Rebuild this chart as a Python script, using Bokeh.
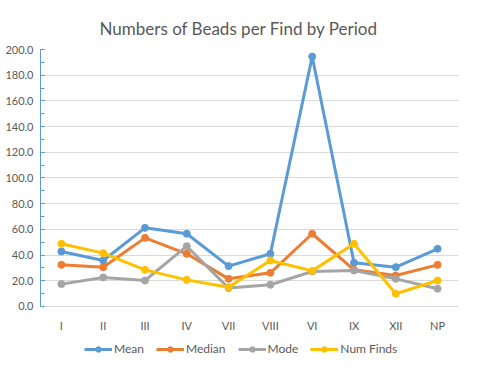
from bokeh.plotting import figure
from bokeh.models import Legend, LegendItem, NumeralTickFormatter, FixedTicker, Range1d
from bokeh.embed import file_html
from bokeh.resources import INLINE

periods = ["I", "II", "III", "IV", "VII", "VIII", "VI", "IX", "XII", "NP"]
mean = [42.8, 35.8, 61.2, 56.6, 31.4, 41.0, 194.5, 34.0, 30.6, 44.9]
median = [32.4, 30.6, 53.4, 41.0, 21.5, 26.2, 56.6, 28.5, 24.1, 32.4]
mode = [17.4, 22.6, 20.2, 46.9, 14.3, 16.9, 27.2, 28.0, 21.5, 13.8]
num_finds = [48.8, 41.5, 28.5, 20.7, 15.0, 35.8, 27.7, 48.8, 9.9, 20.2]
y_ticks = list(range(0, 201, 20))

series = [("Mean", mean, "#5B9BD5"), ("Median", median, "#ED7D31"),
          ("Mode", mode, "#A5A5A5"), ("Num Finds", num_finds, "#FFC000")]

FONT = "Lato"
GREY = "#595959"

p = figure(x_range=periods, y_range=Range1d(-40.5, 200),
           frame_width=418, frame_height=309, output_backend="svg",
           toolbar_location=None, min_border_left=40, min_border_right=6,
           min_border_top=49, min_border_bottom=0)

p.title.text = "Numbers of Beads per Find by Period"
p.title.align = "left"
p.title.offset = 59
p.title.standoff = 21
p.title.text_font = FONT
p.title.text_font_size = "17px"
p.title.text_font_style = "normal"
p.title.text_color = GREY

items = []
for name, vals, col in series:
    r1 = p.line(periods, vals, line_width=3, color=col)
    r2 = p.scatter(periods, vals, size=7, color=col)
    items.append(LegendItem(label=name, renderers=[r1, r2]))

legend = Legend(items=items, orientation="horizontal", location=(44, 2),
                label_text_font=FONT, label_text_font_size="12px",
                label_text_color=GREY, glyph_width=28, glyph_height=14,
                spacing=12, label_height=14,
                border_line_color=None, background_fill_alpha=0,
                padding=0, margin=0, label_standoff=2)
p.add_layout(legend, "center")

p.yaxis.ticker = FixedTicker(ticks=y_ticks,
                             minor_ticks=list(range(0, 201, 10)))
p.yaxis.bounds = (0, 200)
p.yaxis.formatter = NumeralTickFormatter(format="0.0")
p.yaxis.axis_line_color = "#5B9BD5"
p.yaxis.major_tick_in = 4
p.yaxis.major_tick_out = 0
p.yaxis.minor_tick_in = 4
p.yaxis.minor_tick_out = 0
p.yaxis.major_tick_line_color = "#5B9BD5"
p.yaxis.minor_tick_line_color = "#5B9BD5"
p.yaxis.major_label_text_font = FONT
p.yaxis.major_label_text_font_size = "11px"
p.yaxis.major_label_text_color = GREY
p.yaxis.major_label_standoff = 7

p.xaxis.fixed_location = 0
p.xaxis.axis_line_color = "#D9D9D9"
p.xaxis.major_tick_line_color = None
p.xaxis.minor_tick_line_color = None
p.xaxis.major_tick_out = 0
p.xaxis.major_label_text_font = FONT
p.xaxis.major_label_text_font_size = "11px"
p.xaxis.major_label_text_color = GREY
p.xaxis.major_label_standoff = 13

p.xgrid.grid_line_color = None
p.ygrid.grid_line_color = "#D9D9D9"
p.outline_line_color = None

open("out.html", "w").write(file_html(p, INLINE))
